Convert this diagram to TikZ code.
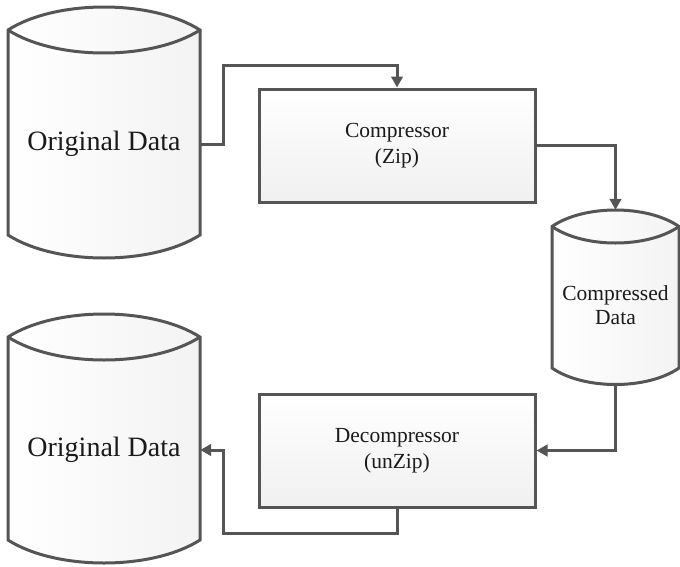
\documentclass[tikz,border=0pt]{standalone}
\usepackage{fontspec}
\setmainfont{Liberation Serif}
\usetikzlibrary{arrows.meta,backgrounds}
\definecolor{linegray}{HTML}{555555}
\definecolor{textgray}{HTML}{1A1A1A}
\definecolor{boxshade}{HTML}{F0F0F0}
\definecolor{storeshade}{HTML}{F3F3F3}

% Cylinder outline around a store node: #1 node, #2 half width,
% #3 half height of the body below the lid, #4 rise of the lid arcs
\newcommand\storeoutline[4]{%
  \begin{scope}[shift={(#1.center)}]
    \path[outline, storefill]
      (-#2,-#3-#4) .. controls (-0.5*#2,-#3-2.333*#4) and (0.5*#2,-#3-2.333*#4) .. (#2,-#3-#4)
      -- (#2,#3) .. controls (0.5*#2,#3+1.333*#4) and (-0.5*#2,#3+1.333*#4) .. (-#2,#3) -- cycle;
    \draw[outline]
      (-#2,-#3-#4) .. controls (-0.5*#2,-#3+0.333*#4) and (0.5*#2,-#3+0.333*#4) .. (#2,-#3-#4);
  \end{scope}}

\begin{document}
\begin{tikzpicture}[x=1pt, y=-1pt,
  outline/.style={draw=linegray, line width=3pt, line join=miter},
  storefill/.style={left color=white, right color=storeshade},
  procbox/.style={outline, top color=white, bottom color=boxshade,
    minimum width=276pt, minimum height=113pt,
    align=center, text=textgray, font=\fontsize{21.5}{26.5}\selectfont},
  storebody/.style={draw=none, inner sep=0pt, align=center, text=textgray},
  flow/.style={draw=linegray, line width=3pt, line join=miter,
    -{Triangle[length=11pt,width=11.5pt]}}]

\useasboundingbox (0,0) rectangle (680,566);

% data stores
\node[storebody, minimum width=192pt, minimum height=182pt,
  font=\fontsize{28}{32}\selectfont] (od1) at (104,144) {Original Data};
\node[storebody, minimum width=192pt, minimum height=180pt,
  font=\fontsize{28}{32}\selectfont] (od2) at (104,450) {Original Data};
\node[storebody, minimum width=127pt, minimum height=125pt,
  font=\fontsize{21.5}{24}\selectfont] (cd) at (615.5,305.5) {Compressed\\Data};

\begin{pgfonlayer}{background}
  \fill[white] (0,0) rectangle (680,566);
  \storeoutline{od1}{96}{91}{23}
  \storeoutline{od2}{96}{90}{23}
  \storeoutline{cd}{63.5}{62.5}{16.5}
\end{pgfonlayer}

% processing steps
\node[procbox] (comp) at (397,145.5) {Compressor\\(Zip)};
\node[procbox] (decomp) at (397,450.5) {Decompressor\\(unZip)};

% bends and ends of the connectors
\coordinate (k1) at (223,65);
\coordinate (k2) at (223,533);
\coordinate (cdtop) at ([yshift=33pt]cd.north);
\coordinate (cdbot) at ([yshift=-16.5pt]cd.south);

\draw[flow] (od1.east) -| (k1) -| (comp.north);
\draw[flow] (comp.east) -| (cdtop);
\draw[flow] (cdbot) |- (decomp.east);
\draw[flow] (decomp.south) |- (k2) |- (od2.east);
\end{tikzpicture}
\end{document}
